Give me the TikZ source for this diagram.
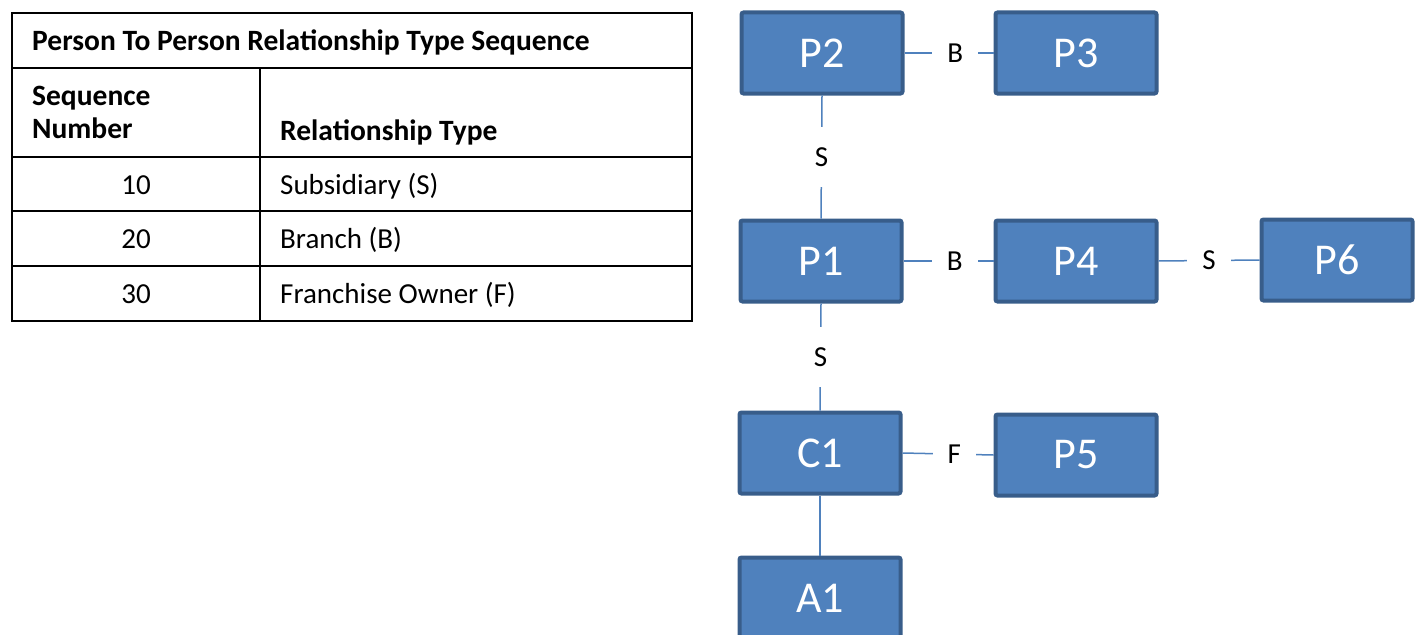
\documentclass[tikz,border=0pt]{standalone}
\usepackage{fontspec}
\setmainfont{Carlito}
\definecolor{boxfill}{HTML}{4F81BD}
\definecolor{boxline}{HTML}{385D8A}
\definecolor{conn}{HTML}{4F81BD}
\begin{document}
\begin{tikzpicture}[x=1pt,y=-1pt,
  ent/.style={draw=boxline, line width=4pt, fill=boxfill, rounded corners=2pt,
    minimum width=161pt, minimum height=81pt, inner sep=0pt, text=white,
    font=\fontsize{44}{48}\selectfont},
  lbl/.style={fill=white, inner xsep=15pt, inner ysep=20pt, text=black,
    font=\fontsize{29}{32}\selectfont},
  link/.style={draw=conn, line width=1.5pt},
  tline/.style={draw=black, line width=1.5pt},
  ttext/.style={anchor=base west, inner sep=0pt, font=\fontsize{29}{32}\selectfont},
  thead/.style={ttext, font=\fontsize{29.5}{32}\selectfont\bfseries}]
\useasboundingbox (0,0) rectangle (1415,634);
\clip (0,0) rectangle (1415,634);
% table
\draw[tline] (12,13) rectangle (692,321);
\draw[tline] (12,68) -- (692,68);
\draw[tline] (12,157) -- (692,157);
\draw[tline] (12,211) -- (692,211);
\draw[tline] (12,266) -- (692,266);
\draw[tline] (260,68) -- (260,321);
\node[thead] (title) at (32,51) {Person To Person Relationship Type Sequence};
\node[thead] (seq1) at (32,105) {Sequence};
\node[thead] (seq2) at (32,138) {Number};
\node[thead] (rtype) at (280,140) {Relationship Type};
\node[ttext, anchor=base] (n10) at (136,194) {10};
\node[ttext] (t10) at (280,194) {Subsidiary (S)};
\node[ttext, anchor=base] (n20) at (136,248) {20};
\node[ttext] (t20) at (280,248) {Branch (B)};
\node[ttext, anchor=base] (n30) at (136,303) {30};
\node[ttext] (t30) at (280,303) {Franchise Owner (F)};
% diagram
\node[ent] (P2) at (822,53) {P2};
\node[ent] (P3) at (1076,53) {P3};
\node[ent] (P1) at (821,261) {P1};
\node[ent] (P4) at (1076,261) {P4};
\node[ent, minimum width=151pt] (P6) at (1337,260) {P6};
\node[ent] (C1) at (820,453) {C1};
\node[ent] (P5) at (1076,455) {P5};
\node[ent] (A1) at (820,598) {A1};
\draw[link] (P2.east) -- node[lbl, pos=0.57] {B} (P3.west);
\draw[link] (P1.east) -- node[lbl, pos=0.57] {B} (P4.west);
\draw[link] (P4.east) -- node[lbl] {S} (P6.west);
\draw[link] (C1.east) -- node[lbl, pos=0.57] {F} (P5.west);
\draw[link] (P2.south) -- node[lbl] {S} (P1.north);
\draw[link] (P1.south) -- node[lbl] {S} (C1.north);
\draw[link] (C1.south) -- (A1.north);
\end{tikzpicture}
\end{document}
